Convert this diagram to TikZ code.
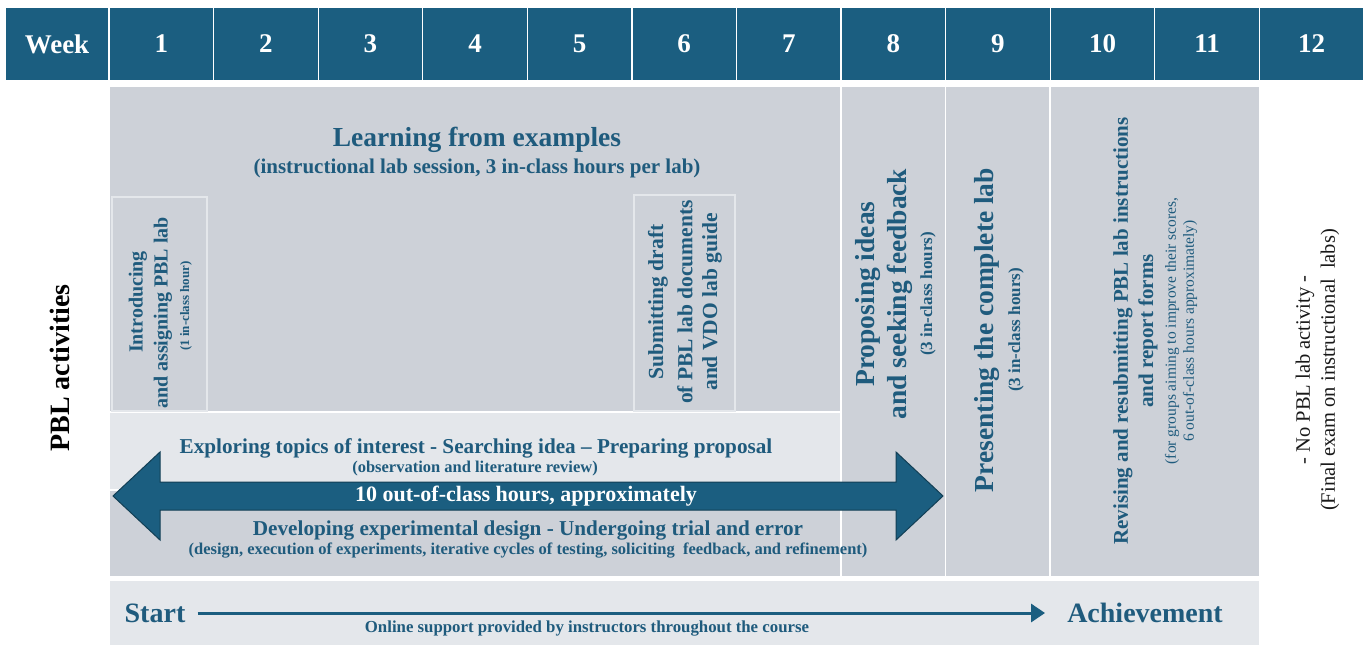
\documentclass[tikz,border=0pt]{standalone}
\usepackage{fontspec}
\setmainfont{Liberation Serif}
\usetikzlibrary{arrows.meta}
\definecolor{hdr}{HTML}{1B5E80}
\definecolor{tx}{HTML}{1F5B7D}
\definecolor{gr}{HTML}{CDD1D8}
\definecolor{lt}{HTML}{E4E7EB}
\definecolor{arrline}{HTML}{123F55}
\newcommand{\fs}[1]{\fontsize{#1}{#1}\selectfont}
\begin{document}
\begin{tikzpicture}[x=1pt,y=-1pt,
  hcell/.style={draw=white,line width=1.2pt,fill=hdr,text=white,font=\bfseries\fs{27},minimum height=74pt,inner sep=0pt},
  blk/.style={fill=gr,draw=white,line width=1.5pt},
  lblk/.style={fill=lt,draw=white,line width=1.5pt},
  ibox/.style={fill=gr,draw=lt,line width=2pt},
  ttl/.style={text=tx,font=\bfseries,inner sep=0pt},
  vtl/.style={text=tx,font=\bfseries,inner sep=0pt,rotate=90}]
\useasboundingbox (0,0) rectangle (1368,648);
\fill[white] (0,0) rectangle (1368,648);
% header
\node[hcell,minimum width=104pt] (wk) at (57,44) {Week};
\foreach \i in {1,...,12}{
  \node[hcell,minimum width=104.58pt] (h\i) at ({109+104.58*(\i-0.5)},44) {\i};
}
% blocks
\path[blk] (109,86) rectangle (841.1,412);
\path[lblk] (109,412) rectangle (841.1,490);
\path[blk] (109,490) rectangle (841.1,577);
\path[draw=none,fill=lt] (110,413) rectangle (840,489);
\path[blk] (841.1,86) rectangle (945.6,577);
\path[blk] (945.6,86) rectangle (1050.2,577);
\path[blk] (1050.2,86) rectangle (1259.4,577);
\path[lblk] (109,580) rectangle (1259.4,646);
\path[ibox] (112,197) rectangle (207,411);
\path[ibox] (634,195) rectangle (735,411);
% learning from examples
\node[ttl,font=\bfseries\fs{27.5}] (learn) at (477,140) {Learning from examples};
\node[ttl,font=\bfseries\fs{21}] (learns) at (477,168) {(instructional lab session, 3 in-class hours per lab)};
% introducing
\node[vtl,font=\bfseries\fs{20}] (intro1) at (138,302) {Introducing};
\node[vtl,font=\bfseries\fs{20}] (intro2) at (163,313) {and assigning PBL lab};
\node[vtl,font=\bfseries\fs{13}] (intro3) at (186,306) {(1 in-class hour)};
% submitting
\node[vtl,font=\bfseries\fs{21.5}] (subm1) at (658,302) {Submitting draft};
\node[vtl,font=\bfseries\fs{21.5}] (subm2) at (685,302) {of PBL lab documents};
\node[vtl,font=\bfseries\fs{21.5}] (subm3) at (712,302) {and VDO lab guide};
% proposing
\node[vtl,font=\bfseries\fs{27.5}] (prop1) at (868,294) {Proposing ideas};
\node[vtl,font=\bfseries\fs{27.5}] (prop2) at (900,294) {and seeking feedback};
\node[vtl,font=\bfseries\fs{17}] (prop3) at (928,294) {(3 in-class hours)};
% presenting
\node[vtl,font=\bfseries\fs{27.5}] (pres1) at (987,330) {Presenting the complete lab};
\node[vtl,font=\bfseries\fs{17}] (pres2) at (1016,330) {(3 in-class hours)};
% revising
\node[vtl,font=\bfseries\fs{21}] (rev1) at (1123,331) {Revising and resubmitting PBL lab instructions};
\node[vtl,font=\bfseries\fs{21}] (rev2) at (1148,331) {and report forms};
\node[vtl,font=\fs{15.5}] (rev3) at (1172,331) {(for groups aiming to improve their scores,};
\node[vtl,font=\fs{15.5}] (rev4) at (1190,331) {6 out-of-class hours approximately)};
% week 12
\node[rotate=90,inner sep=0pt,text=black!90,font=\fs{20.5}] (w12a) at (1305,370) {- No PBL lab activity -};
\node[rotate=90,inner sep=0pt,text=black!90,font=\fs{20.5}] (w12b) at (1330,370) {(Final exam on instructional\ \ labs)};
% PBL activities
\node[rotate=90,inner sep=0pt,font=\bfseries\fs{28}] (pbl) at (60,368) {PBL activities};
% exploring
\node[ttl,font=\bfseries\fs{21.2}] (expl) at (476,448) {Exploring topics of interest - Searching idea -- Preparing proposal};
\node[ttl,font=\bfseries\fs{16.5}] (expls) at (475,469) {(observation and literature review)};
% double arrow
\draw[fill=hdr,draw=arrline,line width=1pt] (113,496) -- (160,452) -- (160,482) -- (896,482) -- (896,452) -- (943,496)
  -- (896,540) -- (896,510) -- (160,510) -- (160,540) -- cycle;
\node[text=white,font=\bfseries\fs{22},inner sep=0pt] (hrs) at (526,496) {10 out-of-class hours, approximately};
% developing
\node[ttl,font=\bfseries\fs{21.2}] (dev) at (528,530) {Developing experimental design - Undergoing trial and error};
\node[ttl,font=\bfseries\fs{16.5}] (devs) at (528,551) {(design, execution of experiments, iterative cycles of testing, soliciting\ \ feedback, and refinement)};
% bottom row
\node[ttl,font=\bfseries\fs{28}] (start) at (155,613) {Start};
\node[ttl,font=\bfseries\fs{28}] (ach) at (1145,613) {Achievement};
\draw[draw=hdr,line width=3pt,-{Triangle[length=14pt,width=18pt]}] ([xshift=12pt]start.east) -- ([xshift=-22pt]ach.west);
\node[ttl,font=\bfseries\fs{16.8}] (online) at (587,629) {Online support provided by instructors throughout the course};
\end{tikzpicture}
\end{document}
